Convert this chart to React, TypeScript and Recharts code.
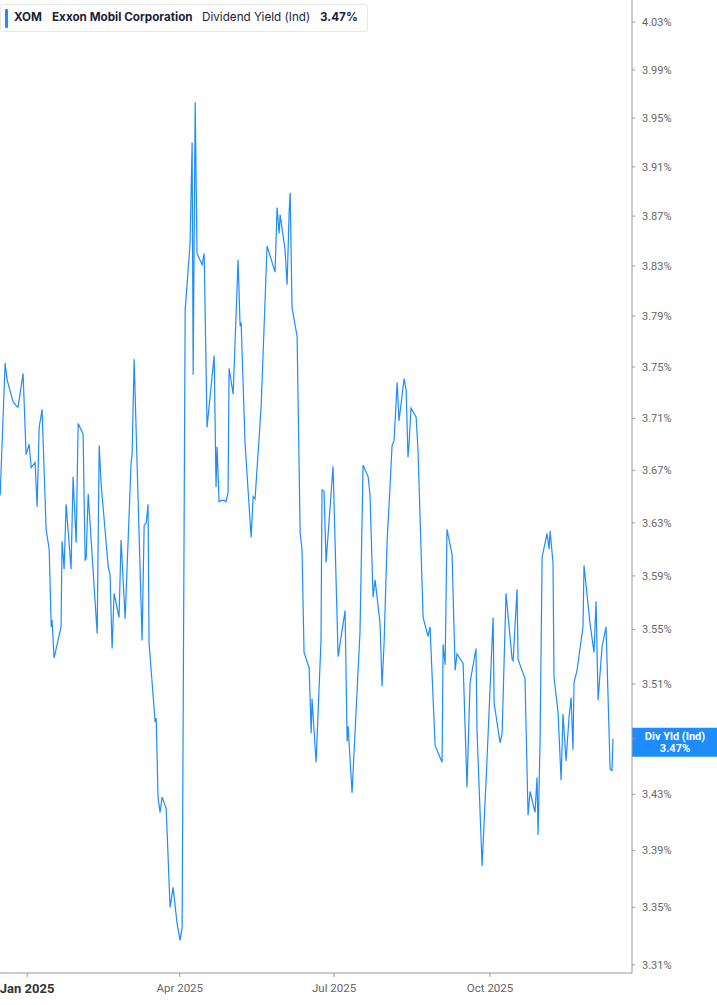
import { LineChart, Line, XAxis, YAxis, ReferenceLine } from "recharts";

// days since 1 Jan 2025
const days = [
  -15.9, -13.0, -11.8, -8.3, -5.9, -5.3, -2.4, -0.6, 1.2, 2.4, 4.7, 5.9, 7.1, 8.8, 11.2, 13.0, 14.2, 14.7, 15.9,
  20.0, 20.6, 21.8, 23.0, 25.9, 27.1, 28.9, 30.1, 33.0, 34.2, 34.8, 36.0, 41.3, 42.5, 43.6, 47.8, 48.9, 50.1,
  51.3, 54.2, 55.4, 57.8, 61.3, 61.9, 63.1, 67.8, 69.0, 70.2, 71.3, 71.9, 75.5, 76.1, 77.2, 78.4, 79.6, 82.0,
  84.3, 86.1, 88.4, 90.2, 91.4, 93.2, 96.1, 97.3, 97.9, 99.1, 100.2, 103.2, 104.4, 106.1, 110.3, 111.4, 112.0,
  113.2, 114.4, 116.2, 117.3, 118.5, 119.1, 121.5, 124.4, 125.6, 126.2, 128.5, 132.1, 133.3, 134.4, 138.0,
  141.5, 146.2, 147.4, 148.6, 149.2, 152.1, 153.3, 154.5, 155.1, 156.2, 159.2, 161.0, 162.1, 163.3, 166.3,
  167.5, 168.0, 170.4, 173.3, 173.9, 175.1, 176.3, 180.4, 183.4, 187.5, 188.7, 189.3, 191.6, 196.3, 198.1,
  201.1, 202.2, 204.0, 205.2, 208.1, 209.3, 210.5, 212.3, 214.0, 215.2, 216.4, 218.2, 219.3, 222.3, 223.5,
  224.6, 225.2, 226.4, 229.4, 230.5, 233.5, 236.4, 237.6, 240.6, 244.7, 245.3, 246.5, 247.6, 250.6, 252.4,
  253.5, 257.1, 259.4, 261.2, 264.7, 265.3, 268.3, 271.2, 274.8, 275.4, 278.9, 280.1, 282.4, 286.0, 286.6,
  288.9, 289.5, 293.6, 295.4, 296.6, 299.5, 300.7, 301.3, 302.5, 303.7, 306.6, 307.8, 308.4, 310.1, 310.7,
  313.1, 314.9, 316.0, 317.8, 319.6, 320.8, 321.9, 322.5, 324.3, 327.8, 328.4, 331.9, 334.3, 335.5, 336.7,
  339.0, 341.4, 343.8, 344.9, 345.5,
];

// dividend yield (%)
const yieldPct = [
  3.651, 3.753, 3.74, 3.723, 3.719, 3.719, 3.745, 3.682, 3.69, 3.672, 3.676, 3.642, 3.703, 3.717, 3.625, 3.61,
  3.552, 3.557, 3.529, 3.552, 3.616, 3.595, 3.644, 3.595, 3.665, 3.615, 3.706, 3.698, 3.602, 3.603, 3.652,
  3.547, 3.689, 3.66, 3.597, 3.591, 3.536, 3.577, 3.559, 3.617, 3.558, 3.676, 3.682, 3.756, 3.542, 3.628,
  3.63, 3.644, 3.54, 3.482, 3.485, 3.428, 3.417, 3.428, 3.42, 3.35, 3.364, 3.339, 3.327, 3.336, 3.795,
  3.848, 3.93, 3.744, 3.963, 3.84, 3.831, 3.84, 3.703, 3.759, 3.657, 3.688, 3.646, 3.647, 3.647, 3.646,
  3.653, 3.749, 3.729, 3.835, 3.782, 3.785, 3.691, 3.619, 3.65, 3.648, 3.719, 3.846, 3.825, 3.877, 3.856,
  3.871, 3.843, 3.815, 3.873, 3.889, 3.797, 3.774, 3.622, 3.61, 3.533, 3.522, 3.474, 3.499, 3.453, 3.542,
  3.655, 3.654, 3.6, 3.673, 3.53, 3.564, 3.468, 3.479, 3.431, 3.548, 3.674, 3.665, 3.651, 3.574, 3.587,
  3.555, 3.508, 3.54, 3.617, 3.657, 3.689, 3.693, 3.738, 3.708, 3.741, 3.732, 3.68, 3.69, 3.718, 3.711,
  3.686, 3.559, 3.545, 3.552, 3.465, 3.453, 3.539, 3.524, 3.625, 3.606, 3.52, 3.532, 3.525, 3.435, 3.511,
  3.536, 3.476, 3.379, 3.455, 3.559, 3.496, 3.467, 3.474, 3.577, 3.528, 3.527, 3.58, 3.528, 3.514, 3.415,
  3.432, 3.417, 3.442, 3.401, 3.469, 3.604, 3.622, 3.61, 3.624, 3.6, 3.515, 3.489, 3.44, 3.488, 3.454,
  3.486, 3.5, 3.462, 3.511, 3.52, 3.552, 3.598, 3.555, 3.533, 3.571, 3.498, 3.537, 3.552, 3.448, 3.447, 3.47,
];

const xTicks = [0, 90, 181, 273];
const xTickLabels = ["Jan 2025", "Apr 2025", "Jul 2025", "Oct 2025"];
const yTicks = [3.31, 3.35, 3.39, 3.43, 3.47, 3.51, 3.55, 3.59, 3.63, 3.67, 3.71, 3.75, 3.79, 3.83, 3.87, 3.91, 3.95, 3.99, 4.03];

const data = days.map((d, i) => ({ day: d, value: yieldPct[i] }));
const lastValue = yieldPct[yieldPct.length - 1];

const BLUE = "#1e8cff";
const FONT = "Roboto, 'Noto Sans', sans-serif";

function XTick(props: any) {
  const { x, y, payload } = props;
  const i = xTicks.indexOf(payload.value);
  const first = i === 0;
  return (
    <text
      x={x}
      y={y}
      dy="0.71em"
      textAnchor="middle"
      fill={first ? "#333" : "#666"}
      fontSize={first ? 13 : 11.5}
      fontWeight={first ? 700 : 400}
      fontFamily={FONT}
    >
      {xTickLabels[i]}
    </text>
  );
}

function LastTag(props: any) {
  const { viewBox } = props;
  const x = viewBox.x + viewBox.width;
  const y = viewBox.y;
  return (
    <g>
      <rect x={x} y={y - 11} width={85} height={29} fill={BLUE} />
      <text x={x + 43} y={y + 1} textAnchor="middle" fill="#fff" fontSize={11} fontWeight={700} fontFamily={FONT}>
        Div Yld (Ind)
      </text>
      <text x={x + 43} y={y + 13} textAnchor="middle" fill="#fff" fontSize={11} fontWeight={700} fontFamily={FONT}>
        {lastValue.toFixed(2)}%
      </text>
    </g>
  );
}

export default function App() {
  return (
    <div style={{ position: "absolute", left: 0, top: 0, width: 717, height: 1005, background: "#fff" }}>
      <LineChart width={717} height={1005} data={data} margin={{ top: 0, right: 0, bottom: 0, left: 0 }}>
        <XAxis
          dataKey="day"
          type="number"
          domain={[-16, 356.7]}
          ticks={xTicks}
          tick={<XTick />}
          tickSize={4}
          tickMargin={7}
          height={32}
          stroke="#999"
          allowDataOverflow
        />
        <YAxis
          orientation="right"
          scale="log"
          domain={[3.3044, 4.0486]}
          ticks={yTicks}
          tickFormatter={(v: number) => (v === 3.47 ? "" : `${v.toFixed(2)}%`)}
          tick={{ fill: "#666", fontSize: 11, fontFamily: FONT, textAnchor: "start" }}
          tickSize={3}
          tickMargin={7}
          width={85}
          stroke="#999"
          allowDataOverflow
          interval={0}
        />
        <Line
          type="linear"
          dataKey="value"
          stroke={BLUE}
          strokeWidth={1.2}
          dot={false}
          activeDot={false}
          isAnimationActive={false}
        />
        <ReferenceLine y={lastValue} stroke="none" label={<LastTag />} />
      </LineChart>
      <div
        style={{
          position: "absolute",
          left: 0,
          top: 4,
          width: 366,
          height: 26,
          border: "1px solid #e8e8e8",
          borderRadius: 3,
          background: "#fff",
          fontFamily: "Inter, sans-serif",
          fontSize: 11.7,
          color: "#1b1f3b",
        }}
      >
        <div style={{ position: "absolute", left: 4, top: 4, width: 3, height: 19, background: BLUE, borderRadius: 1 }} />
        <span style={{ position: "absolute", left: 13, top: 5, fontWeight: 700 }}>XOM</span>
        <span style={{ position: "absolute", left: 51, top: 5, fontWeight: 700 }}>Exxon Mobil Corporation</span>
        <span style={{ position: "absolute", left: 201, top: 5 }}>Dividend Yield (Ind)</span>
        <span style={{ position: "absolute", left: 319, top: 5, fontWeight: 700 }}>{lastValue.toFixed(2)}%</span>
      </div>
    </div>
  );
}
